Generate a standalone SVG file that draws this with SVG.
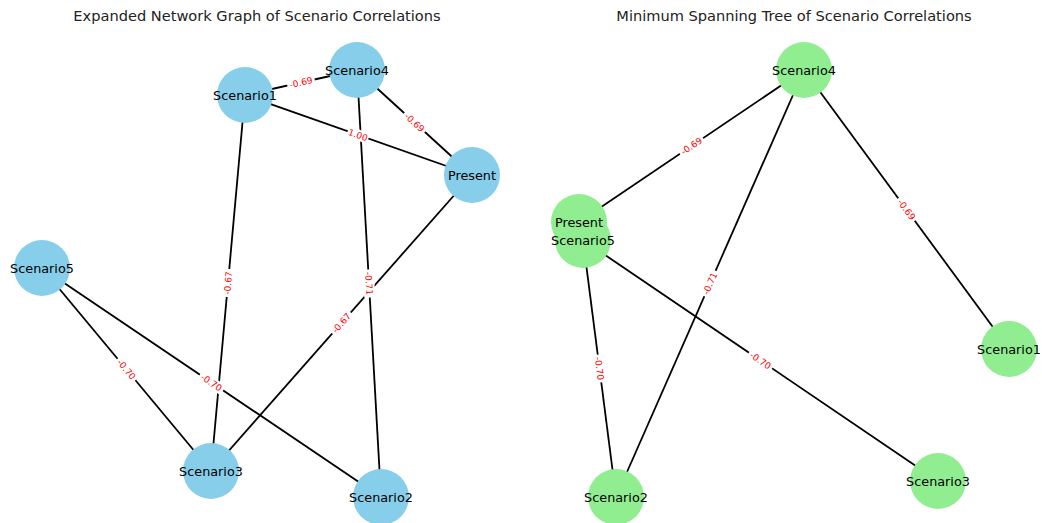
<svg xmlns="http://www.w3.org/2000/svg" width="1042" height="523" viewBox="0 0 1042 523">
<style>
.title{font-family:"DejaVu Sans",sans-serif;font-size:14.6px;fill:#222;text-anchor:middle}
.e{stroke:#000;stroke-width:1.8;fill:none}
.lb rect{fill:#fff}
.lb text{font-family:"DejaVu Sans",sans-serif;font-size:9px;fill:#ff0000;text-anchor:middle}
.nb{fill:#87ceeb}
.ng{fill:#90ee90}
.nt{font-family:"DejaVu Sans",sans-serif;font-size:12.8px;fill:#000;text-anchor:middle}
</style>
<rect width="1042" height="523" fill="#fff"/>
<text class="title" x="257" y="21">Expanded Network Graph of Scenario Correlations</text>
<text class="title" x="794" y="21">Minimum Spanning Tree of Scenario Correlations</text>
<g id="connectors">
<line class="e" x1="245" y1="95" x2="357" y2="70"/>
<line class="e" x1="245" y1="95" x2="472" y2="175"/>
<line class="e" x1="357" y1="70" x2="472" y2="175"/>
<line class="e" x1="245" y1="95" x2="211" y2="471"/>
<line class="e" x1="357" y1="70" x2="381" y2="497"/>
<line class="e" x1="472" y1="175" x2="211" y2="471"/>
<line class="e" x1="42" y1="268" x2="211" y2="471"/>
<line class="e" x1="42" y1="268" x2="381" y2="497"/>
<line class="e" x1="804" y1="70" x2="579" y2="222"/>
<line class="e" x1="804" y1="70" x2="1009" y2="349"/>
<line class="e" x1="804" y1="70" x2="616" y2="497"/>
<line class="e" x1="583" y1="240" x2="616" y2="497"/>
<line class="e" x1="583" y1="240" x2="938" y2="481"/>
</g>
<g id="edge-labels">
<g class="lb" transform="translate(301,82.5) rotate(-12.6)"><rect x="-14" y="-5.5" width="28" height="11"/><text y="3.2">-0.69</text></g>
<g class="lb" transform="translate(358,135) rotate(19.4)"><rect x="-11" y="-5.5" width="22" height="11"/><text y="3.2">1.00</text></g>
<g class="lb" transform="translate(414.5,122.5) rotate(42.4)"><rect x="-14" y="-5.5" width="28" height="11"/><text y="3.2">-0.69</text></g>
<g class="lb" transform="translate(228,283) rotate(-84.8)"><rect x="-14" y="-5.5" width="28" height="11"/><text y="3.2">-0.67</text></g>
<g class="lb" transform="translate(369,283.5) rotate(86.8)"><rect x="-14" y="-5.5" width="28" height="11"/><text y="3.2">-0.71</text></g>
<g class="lb" transform="translate(341.5,323) rotate(-48.6)"><rect x="-14" y="-5.5" width="28" height="11"/><text y="3.2">-0.67</text></g>
<g class="lb" transform="translate(126.5,369.5) rotate(50.2)"><rect x="-14" y="-5.5" width="28" height="11"/><text y="3.2">-0.70</text></g>
<g class="lb" transform="translate(211.5,382.5) rotate(34)"><rect x="-14" y="-5.5" width="28" height="11"/><text y="3.2">-0.70</text></g>
<g class="lb" transform="translate(691.5,146) rotate(-34)"><rect x="-14" y="-5.5" width="28" height="11"/><text y="3.2">-0.69</text></g>
<g class="lb" transform="translate(906.5,209.5) rotate(53.7)"><rect x="-14" y="-5.5" width="28" height="11"/><text y="3.2">-0.69</text></g>
<g class="lb" transform="translate(710,283.5) rotate(-66.2)"><rect x="-14" y="-5.5" width="28" height="11"/><text y="3.2">-0.71</text></g>
<g class="lb" transform="translate(599.5,368.5) rotate(82.7)"><rect x="-14" y="-5.5" width="28" height="11"/><text y="3.2">-0.70</text></g>
<g class="lb" transform="translate(760.5,360.5) rotate(34.2)"><rect x="-14" y="-5.5" width="28" height="11"/><text y="3.2">-0.70</text></g>
</g>
<g id="L-Scenario1"><circle class="nb" cx="245" cy="95" r="28"/><text class="nt" x="245" y="99.5">Scenario1</text></g>
<g id="L-Scenario4"><circle class="nb" cx="357" cy="70" r="28"/><text class="nt" x="357" y="74.5">Scenario4</text></g>
<g id="L-Present"><circle class="nb" cx="472" cy="175" r="28"/><text class="nt" x="472" y="179.5">Present</text></g>
<g id="L-Scenario5"><circle class="nb" cx="42" cy="268" r="28"/><text class="nt" x="42" y="272.5">Scenario5</text></g>
<g id="L-Scenario3"><circle class="nb" cx="211" cy="471" r="28"/><text class="nt" x="211" y="475.5">Scenario3</text></g>
<g id="L-Scenario2"><circle class="nb" cx="381" cy="497" r="28"/><text class="nt" x="381" y="501.5">Scenario2</text></g>
<g id="R-Scenario4"><circle class="ng" cx="804" cy="70" r="28"/><text class="nt" x="804" y="74.5">Scenario4</text></g>
<g id="R-Present"><circle class="ng" cx="579" cy="222" r="28"/></g>
<g id="R-Scenario5"><circle class="ng" cx="583" cy="240" r="28"/></g>
<g id="R-labels"><text class="nt" x="579" y="226.5">Present</text><text class="nt" x="583" y="244.5">Scenario5</text></g>
<g id="R-Scenario1"><circle class="ng" cx="1009" cy="349" r="28"/><text class="nt" x="1009" y="353.5">Scenario1</text></g>
<g id="R-Scenario3"><circle class="ng" cx="938" cy="481" r="28"/><text class="nt" x="938" y="485.5">Scenario3</text></g>
<g id="R-Scenario2"><circle class="ng" cx="616" cy="497" r="28"/><text class="nt" x="616" y="501.5">Scenario2</text></g>
</svg>
